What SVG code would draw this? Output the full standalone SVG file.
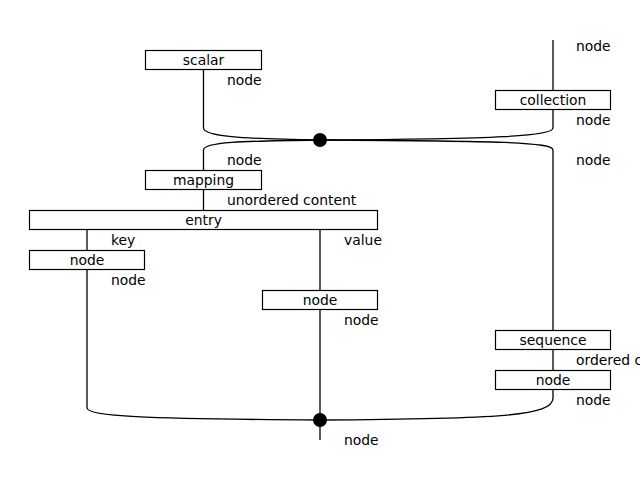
<svg xmlns="http://www.w3.org/2000/svg" width="640" height="480" viewBox="0 0 640 480">
  <style>
    .box rect { fill: #ffffff; stroke: #000000; stroke-width: 1.2; }
    .box text { font-family: "DejaVu Sans", sans-serif; font-size: 13.9px; text-anchor: middle; fill: #000000; }
    .lbl { font-family: "DejaVu Sans", sans-serif; font-size: 13.9px; fill: #000000; }
    .edges path { fill: none; stroke: #000000; stroke-width: 1.3; }
    .dot { fill: #000000; }
  </style>
  <rect width="640" height="480" fill="#ffffff"/>

  <!-- connectors -->
  <g id="connectors" class="edges">
    <path d="M553,40 V90"/>
    <path d="M203.5,70 V128 C203.5,136 240,139 320,140"/>
    <path d="M553,110 V128 C553,136 500,139 320,140"/>
    <path d="M320,140 C240,141 203.5,142 203.5,150 V170"/>
    <path d="M320,140 C500,141 553,142 553,150 V330"/>
    <path d="M203.5,190 V210"/>
    <path d="M87,230 V250"/>
    <path d="M320,230 V290"/>
    <path d="M553,350 V370"/>
    <path d="M87,270 V408 C87,416 140,419 320,420"/>
    <path d="M553,390 V398 C553,416 500,419 320,420"/>
    <path d="M320,310 V440"/>
    <circle class="dot" cx="320" cy="140" r="7"/>
    <circle class="dot" cx="320" cy="420" r="7"/>
  </g>

  <!-- nodes -->
  <g id="scalar" class="box">
    <rect x="145.5" y="50.5" width="116" height="19"/>
    <text x="203.5" y="64.5">scalar</text>
  </g>
  <g id="collection" class="box">
    <rect x="495.5" y="90.5" width="115" height="19"/>
    <text x="553" y="104.5">collection</text>
  </g>
  <g id="mapping" class="box">
    <rect x="145.5" y="170.5" width="116" height="19"/>
    <text x="203.5" y="184.5">mapping</text>
  </g>
  <g id="entry" class="box">
    <rect x="29.5" y="210.5" width="348" height="19"/>
    <text x="203.5" y="224.5">entry</text>
  </g>
  <g id="key-node" class="box">
    <rect x="29.5" y="250.5" width="115" height="19"/>
    <text x="87" y="264.5">node</text>
  </g>
  <g id="value-node" class="box">
    <rect x="262.5" y="290.5" width="115" height="19"/>
    <text x="320" y="304.5">node</text>
  </g>
  <g id="sequence" class="box">
    <rect x="495.5" y="330.5" width="115" height="19"/>
    <text x="553" y="344.5">sequence</text>
  </g>
  <g id="item-node" class="box">
    <rect x="495.5" y="370.5" width="115" height="19"/>
    <text x="553" y="384.5">node</text>
  </g>

  <!-- port labels -->
  <g id="labels">
    <text class="lbl" x="576" y="51">node</text>
    <text class="lbl" x="227" y="85">node</text>
    <text class="lbl" x="576" y="125">node</text>
    <text class="lbl" x="227" y="165">node</text>
    <text class="lbl" x="576" y="165">node</text>
    <text class="lbl" x="227" y="205">unordered content</text>
    <text class="lbl" x="111" y="245">key</text>
    <text class="lbl" x="344" y="245">value</text>
    <text class="lbl" x="111" y="285">node</text>
    <text class="lbl" x="344" y="325">node</text>
    <text class="lbl" x="576" y="365">ordered content</text>
    <text class="lbl" x="576" y="405">node</text>
    <text class="lbl" x="344" y="445">node</text>
  </g>
</svg>
